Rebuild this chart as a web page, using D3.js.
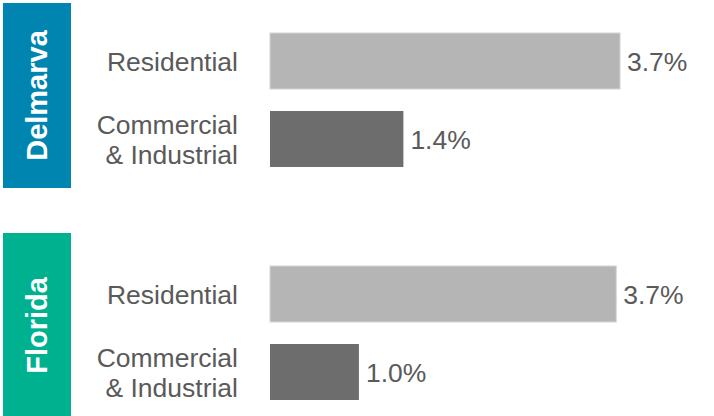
<html>
  <script src="https://d3js.org/d3.v7.min.js"></script>
  <style>
    body { margin: 0; background: #fff; }
    text { font-family: "Liberation Sans", Arial, sans-serif; }
  </style>
  <body>
    <script>
      // data
      let regions = ["Delmarva", "Florida"];
      let regionColors = ["#0085b0", "#00b190"];
      let categories = ["Residential", "Commercial & Industrial"];
      let categoryLines = [["Residential"], ["Commercial", "& Industrial"]];
      let delmarvaValues = [3.70, 1.41];
      let floridaValues = [3.66, 0.94];
      let valueLabels = [["3.7%", "1.4%"], ["3.7%", "1.0%"]];
      let barColors = ["#b5b5b5", "#6d6d6d"];

      let width = 714;
      let height = 416;
      let svg = d3.select("body").append("svg")
                  .attr("width", width)
                  .attr("height", height);

      let x = d3.scaleLinear()
                .domain([0, 4])
                .range([270, 270 + 4 * 94.6]);
      let panelY = d3.scalePoint()
                     .domain(regions)
                     .range([0, 233]);
      let y = d3.scaleBand()
                .domain(categories)
                .range([22, 178])
                .paddingInner(0.282)
                .paddingOuter(0.141);
      let boxTop = [3, 233];

      let allValues = [delmarvaValues, floridaValues];

      regions.forEach((region, r) => {
        let off = panelY(region);
        let g = svg.append("g").attr("transform", `translate(0,${off})`);

        // coloured side box with rotated name
        let bt = boxTop[r] - off;
        g.append("rect")
         .attr("x", 3)
         .attr("y", bt)
         .attr("width", 68)
         .attr("height", 185)
         .attr("fill", regionColors[r]);
        g.append("text")
         .attr("transform", `translate(37,${bt + 92.5}) rotate(-90)`)
         .attr("text-anchor", "middle")
         .attr("dy", "0.36em")
         .attr("fill", "#fff")
         .attr("font-weight", "bold")
         .attr("font-size", 29)
         .text(region);

        categories.forEach((cat, i) => {
          let v = allValues[r][i];
          let yc = y(cat) + y.bandwidth() / 2;
          g.append("rect")
           .attr("x", x(0))
           .attr("y", y(cat))
           .attr("width", x(v) - x(0))
           .attr("height", y.bandwidth())
           .attr("fill", barColors[i])
           .attr("stroke", i == 0 ? "#d4d4d4" : "none")
           .attr("stroke-width", 1);
          g.append("text")
           .attr("x", x(v) + 7)
           .attr("y", yc)
           .attr("dy", "0.36em")
           .attr("fill", "#5a5a5a")
           .attr("font-size", 26.5)
           .text(valueLabels[r][i]);

          let lines = categoryLines[i];
          lines.forEach((line, k) => {
            g.append("text")
             .attr("x", 238)
             .attr("y", yc + (k - (lines.length - 1) / 2) * 30)
             .attr("dy", "0.36em")
             .attr("text-anchor", "end")
             .attr("fill", "#5a5a5a")
             .attr("font-size", 26.5)
             .text(line);
          });
        });
      });
    </script>
  </body>
</html>
